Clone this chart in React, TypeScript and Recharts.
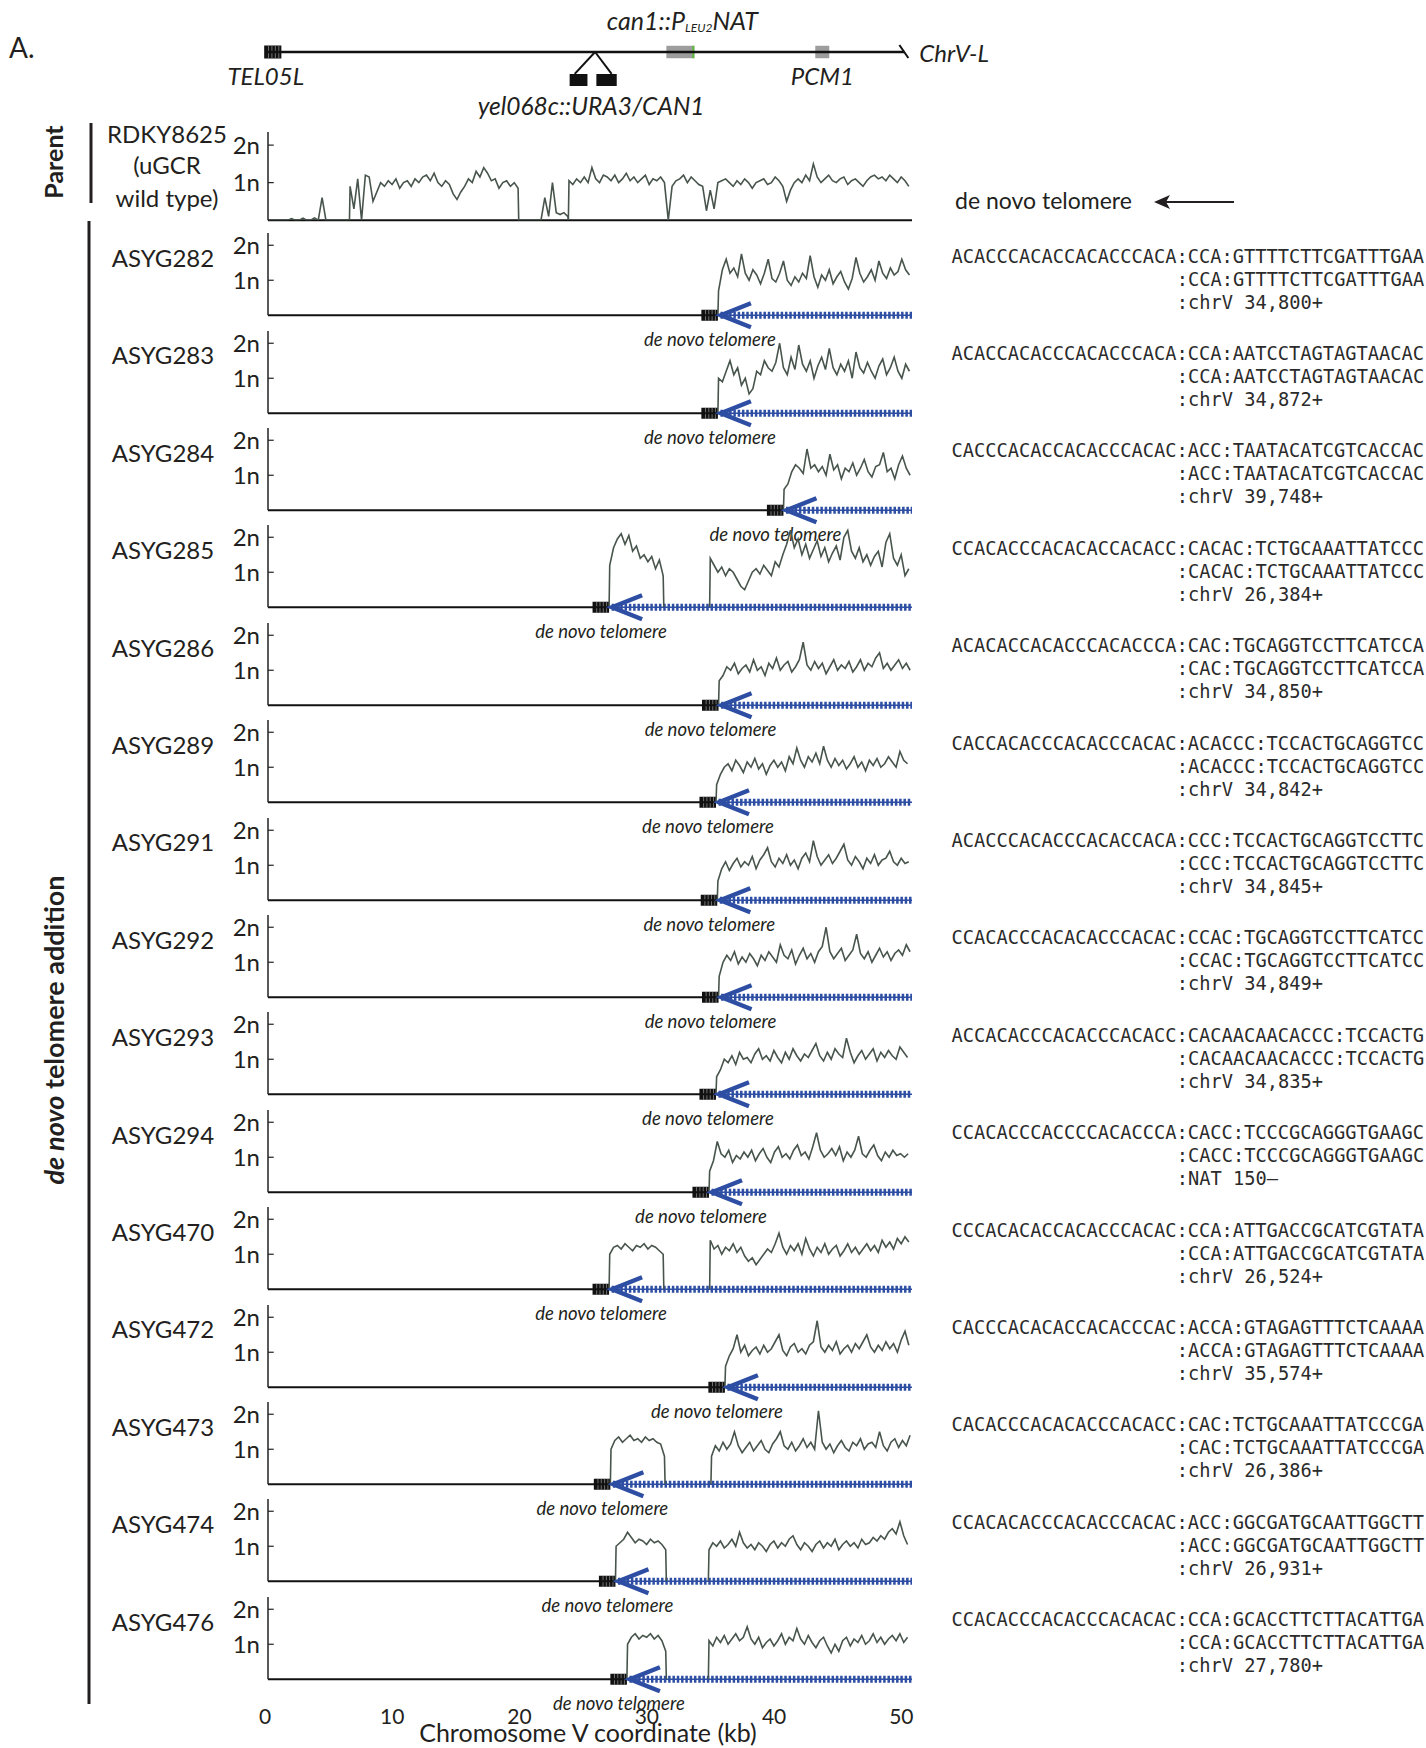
import React from 'react'
import { LineChart, Line, XAxis, YAxis, ReferenceLine, ReferenceArea, ReferenceDot } from 'recharts'

// sampling step of the copy-number traces (kb)
const STEP = 0.3
const X_MAX = 50.6
const xTicks = [0, 10, 20, 30, 40, 50]
const yTicks = [1, 2]

const strains = [
  'ASYG282', 'ASYG283', 'ASYG284', 'ASYG285', 'ASYG286', 'ASYG289', 'ASYG291', 'ASYG292',
  'ASYG293', 'ASYG294', 'ASYG470', 'ASYG472', 'ASYG473', 'ASYG474', 'ASYG476',
]

// right edge of the de novo telomere marker, kb
const telomereKb = [35.35, 35.35, 40.5, 26.8, 35.4, 35.2, 35.3, 35.4, 35.2, 34.65, 26.8, 35.9, 26.9, 27.3, 28.2]
// start of the second (distal) block in strains with a gap, kb
const distalStartKb = [null, null, null, 34.7, null, null, null, null, null, null, 34.7, null, 34.8, 34.6, 34.6]

const telomereRepeats = [
  'ACACCCACACCACACCCACA', 'ACACCACACCCACACCCACA', 'CACCCACACCACACCCACAC', 'CCACACCCACACACCACACC',
  'ACACACCACACCCACACCCA', 'CACCACACCCACACCCACAC', 'ACACCCACACCCACACCACA', 'CCACACCCACACACCCACAC',
  'ACCACACCCACACCCACACC', 'CCACACCCACCCCACACCCA', 'CCCACACACCACACCCACAC', 'CACCCACACACCACACCCAC',
  'CACACCCACACACCCACACC', 'CCACACACCCACACCCACAC', 'CCACACCCACACCCACACAC',
]
const junctions = [
  'CCA:GTTTTCTTCGATTTGAA', 'CCA:AATCCTAGTAGTAACAC', 'ACC:TAATACATCGTCACCAC', 'CACAC:TCTGCAAATTATCCC',
  'CAC:TGCAGGTCCTTCATCCA', 'ACACCC:TCCACTGCAGGTCC', 'CCC:TCCACTGCAGGTCCTTC', 'CCAC:TGCAGGTCCTTCATCC',
  'CACAACAACACCC:TCCACTG', 'CACC:TCCCGCAGGGTGAAGC', 'CCA:ATTGACCGCATCGTATA', 'ACCA:GTAGAGTTTCTCAAAA',
  'CAC:TCTGCAAATTATCCCGA', 'ACC:GGCGATGCAATTGGCTT', 'CCA:GCACCTTCTTACATTGA',
]
const breakCoords = [
  'chrV 34,800+', 'chrV 34,872+', 'chrV 39,748+', 'chrV 26,384+', 'chrV 34,850+', 'chrV 34,842+',
  'chrV 34,845+', 'chrV 34,849+', 'chrV 34,835+', 'NAT 150–', 'chrV 26,524+', 'chrV 35,574+',
  'chrV 26,386+', 'chrV 26,931+', 'chrV 27,780+',
]

// parent RDKY8625 trace, in blocks (start kb, values in n)
const parentA = [0, 0, 0, 0, 0, 0, 0.04, 0, 0, 0.05, 0, 0, 0.06, 0, 0.6, 0, 0, 0, 0, 0, 0, 0]
const parentB = [0.9, 0.3, 1.1, 0.0, 1.2, 1.15, 0.5, 0.75, 1.0, 0.9, 1.05, 0.95, 1.1, 0.85, 1.0, 1.05, 0.9, 1.1, 1.0, 1.15,
  1.2, 1.05, 1.25, 1.0, 0.9, 1.05, 0.95, 0.7, 0.55, 0.75, 0.9, 1.1, 1.0, 1.3, 1.15, 1.4, 1.25, 1.05, 1.1, 0.85,
  1.0, 1.05, 0.9, 1.0, 0.85]
const parentC = [0, 0, 0, 0, 0, 0, 0.6, 0.1, 1.0, 0.2, 0.15, 0.2, 0.1]
const parentD = [1.05, 0.95, 1.1, 1.0, 1.15, 1.0, 1.4, 1.1, 1.0, 1.2, 1.15, 1.05, 1.2, 1.0, 1.1, 1.25, 1.05, 1.15, 1.0, 1.1,
  1.2, 0.95, 1.1, 1.05, 1.15, 1.0, 0.0, 0.9, 1.05, 1.1, 1.2, 1.0, 1.15, 1.05, 0.95, 0.9, 0.25, 0.8, 0.3, 1.0,
  1.05, 1.1, 1.0, 0.9, 1.05, 0.95, 1.1, 1.0, 0.85, 1.0, 1.05, 1.1, 0.95, 1.0, 1.15, 1.05, 0.9, 0.5, 0.8, 1.0,
  1.1, 1.0, 1.2, 1.05, 1.5, 1.15, 1.0, 1.1, 1.2, 1.05, 1.0, 1.1, 1.15, 0.95, 1.05, 1.1, 1.0, 0.9, 1.05, 1.15,
  1.2, 1.1, 1.15, 1.05, 1.2, 1.1, 1.0, 1.15, 1.05, 0.9, 0.8]

const asyg282 = [0.7, 1.3, 1.6, 1.2, 1.35, 1.1, 1.75, 1.2, 1.0, 1.3, 1.15, 0.9, 1.2, 1.6, 1.05, 0.95, 1.2, 1.55, 1.0, 0.85,
  1.1, 0.95, 1.2, 1.05, 1.7, 1.1, 0.8, 1.15, 1.0, 1.3, 0.9, 1.1, 1.25, 0.95, 0.75, 1.05, 1.65, 1.2, 0.95, 1.1,
  1.3, 1.0, 1.55, 1.2, 1.05, 1.35, 1.15, 1.25, 1.6, 1.3, 1.15]
const asyg283 = [1.0, 0.9, 1.2, 1.5, 1.1, 1.3, 0.8, 1.0, 0.55, 0.7, 1.2, 1.1, 1.5, 1.3, 1.2, 1.45, 2.0, 1.3, 1.1, 1.6,
  1.25, 1.95, 1.4, 1.2, 1.5, 1.0, 1.35, 1.6, 1.25, 1.85, 1.3, 1.1, 1.4, 1.2, 1.5, 1.0, 1.75, 1.3, 1.15, 1.45,
  1.2, 1.0, 1.35, 1.55, 1.1, 1.3, 1.6, 1.2, 1.0, 1.4, 1.2]
const asyg284 = [0.6, 0.75, 1.1, 1.3, 1.2, 1.05, 1.75, 1.2, 1.3, 1.1, 1.25, 1.0, 1.6, 1.15, 1.3, 0.9, 1.2, 1.1, 1.35, 1.0,
  1.2, 1.45, 1.1, 0.95, 1.25, 1.3, 1.65, 1.1, 1.2, 0.9, 1.3, 1.55, 1.2, 1.0]
const asyg285a = [1.2, 1.7, 1.95, 2.1, 1.8, 2.05, 1.6, 1.75, 1.4, 1.5, 1.3, 1.45, 1.1, 1.35, 0.9]
const asyg285b = [1.4, 1.2, 1.0, 1.15, 0.9, 1.1, 1.0, 0.8, 0.6, 0.5, 0.75, 1.0, 1.1, 0.95, 1.2, 1.05, 0.9, 1.3, 1.15, 1.5,
  1.8, 2.2, 1.7, 1.95, 1.5, 1.8, 1.4, 1.65, 1.9, 1.45, 1.7, 1.3, 1.55, 1.75, 1.35, 2.0, 2.2, 1.6, 1.4, 1.7,
  1.3, 1.5, 1.2, 1.45, 1.6, 1.15, 1.85, 2.1, 1.4, 1.2, 1.5, 0.9, 1.1, 0.7]
const asyg286 = [0.7, 0.85, 1.1, 1.0, 1.2, 0.9, 1.05, 1.15, 0.95, 1.3, 1.0, 1.1, 0.85, 1.2, 1.05, 1.35, 1.0, 1.15, 1.25, 0.95,
  1.1, 1.3, 1.8, 1.15, 1.0, 1.25, 1.05, 1.2, 0.9, 1.1, 1.3, 1.0, 1.15, 1.05, 1.25, 0.95, 1.1, 1.3, 1.0, 1.2,
  1.1, 1.35, 1.5, 1.05, 1.2, 1.0, 1.15, 1.3, 1.05, 1.2, 1.0]
const asyg289 = [0.5, 0.8, 1.0, 1.1, 0.9, 1.2, 1.05, 0.85, 1.15, 1.0, 1.25, 0.95, 1.1, 0.8, 1.05, 1.2, 1.0, 1.15, 0.9, 1.3,
  1.1, 1.55, 1.2, 1.0, 1.3, 1.15, 1.4, 1.1, 1.6, 1.2, 1.0, 1.25, 1.05, 1.2, 0.95, 1.1, 1.3, 1.0, 1.15, 0.9,
  1.2, 1.05, 1.25, 1.0, 1.1, 1.3, 1.15, 1.0, 1.45, 1.2, 1.1]
const asyg291 = [0.55, 0.9, 1.1, 0.85, 1.05, 1.2, 0.95, 1.1, 1.0, 1.25, 0.9, 1.15, 1.3, 1.5, 1.1, 0.95, 1.2, 1.05, 1.3, 1.0,
  1.15, 0.9, 1.2, 1.35, 1.1, 1.7, 1.25, 1.0, 1.15, 1.3, 1.05, 1.2, 1.4, 1.6, 1.15, 1.0, 1.25, 1.1, 0.9, 1.2,
  1.05, 1.3, 1.0, 1.15, 1.2, 1.4, 1.1, 1.0, 1.2, 1.05, 1.1]
const asyg292 = [0.6, 1.0, 1.2, 1.05, 1.3, 0.95, 1.15, 1.0, 1.25, 1.1, 0.9, 1.2, 1.05, 1.3, 1.15, 1.0, 1.5, 1.2, 1.1, 1.35,
  0.95, 1.2, 1.4, 1.1, 1.25, 1.0, 1.3, 1.45, 2.0, 1.3, 1.1, 1.25, 1.4, 1.05, 1.2, 1.35, 1.8, 1.25, 1.1, 1.3,
  1.0, 1.2, 1.4, 1.15, 1.3, 1.05, 1.25, 1.35, 1.2, 1.5, 1.3]
const asyg293 = [0.5, 0.7, 1.0, 0.9, 1.1, 0.85, 1.2, 1.0, 1.05, 0.9, 1.15, 1.3, 1.0, 1.1, 0.95, 1.25, 1.05, 0.9, 1.2, 1.0,
  1.3, 1.1, 0.95, 1.15, 1.05, 1.25, 1.45, 1.1, 0.95, 1.2, 1.0, 1.3, 1.15, 1.05, 1.6, 1.2, 0.9, 1.1, 1.25, 1.0,
  1.15, 1.3, 0.95, 1.2, 1.05, 1.25, 1.1, 1.0, 1.35, 1.2, 1.05]
const asyg294 = [0.6, 0.9, 1.45, 1.1, 1.0, 1.2, 0.85, 1.05, 0.95, 1.15, 1.0, 1.2, 0.9, 1.1, 1.25, 1.0, 0.85, 1.15, 1.3, 1.0,
  1.1, 0.95, 1.2, 1.35, 1.05, 1.15, 0.95, 1.3, 1.7, 1.2, 1.0, 1.1, 1.25, 1.05, 1.3, 0.9, 1.15, 1.0, 1.2, 1.6,
  1.1, 1.0, 1.2, 1.35, 1.05, 0.9, 1.15, 1.0, 1.2, 1.05, 1.1, 1.0, 1.1]
const asyg470a = [1.0, 1.2, 1.25, 1.15, 1.3, 1.2, 1.1, 1.25, 1.2, 1.3, 1.15, 1.25, 1.2, 1.1, 1.0]
const asyg470b = [1.4, 1.15, 1.25, 1.0, 1.2, 1.1, 1.3, 1.05, 1.2, 0.95, 0.8, 0.9, 0.7, 0.85, 1.0, 1.15, 1.05, 1.3, 1.6, 1.2,
  1.0, 1.25, 1.1, 1.3, 1.0, 1.45, 1.15, 0.95, 1.2, 1.05, 1.3, 1.0, 1.15, 1.25, 0.95, 1.1, 1.3, 1.05, 1.2, 1.0,
  1.15, 1.3, 1.1, 1.25, 1.05, 1.4, 1.2, 1.35, 1.15, 1.45, 1.3, 1.5, 1.35]
const asyg472 = [0.6, 0.9, 1.1, 1.5, 1.0, 1.2, 0.9, 1.05, 1.15, 0.95, 1.2, 1.0, 1.1, 1.3, 1.5, 1.05, 0.9, 1.15, 1.25, 1.0,
  1.1, 0.95, 1.2, 1.3, 1.9, 1.15, 1.0, 1.2, 1.05, 1.3, 0.95, 1.1, 1.2, 1.0, 1.25, 1.1, 1.3, 1.5, 1.15, 1.0,
  1.2, 1.05, 1.3, 1.1, 1.25, 1.0, 1.35, 1.6, 1.2]
const asyg473a = [1.0, 1.25, 1.35, 1.2, 1.3, 1.4, 1.25, 1.3, 1.2, 1.35, 1.25, 1.3, 1.2, 1.15, 0.8]
const asyg473b = [0.8, 1.1, 0.95, 1.2, 1.0, 1.15, 1.5, 1.1, 0.9, 1.05, 1.2, 0.95, 1.1, 1.25, 1.0, 0.9, 1.15, 1.3, 1.5, 1.1,
  1.0, 1.2, 0.95, 1.1, 1.3, 1.05, 1.2, 1.0, 2.1, 1.2, 1.0, 1.15, 0.9, 1.1, 1.25, 1.05, 0.95, 1.2, 1.1, 1.3,
  1.0, 1.15, 1.2, 1.05, 1.5, 1.1, 0.95, 1.2, 1.3, 1.05, 1.25, 1.1, 1.4, 1.2]
const asyg474a = [1.0, 1.1, 1.2, 1.4, 1.25, 1.1, 1.2, 1.15, 1.05, 1.2, 1.1, 1.15, 1.05, 0.9]
const asyg474b = [0.9, 1.1, 1.0, 1.15, 0.95, 1.05, 1.2, 1.0, 1.4, 1.1, 0.95, 1.05, 0.9, 1.1, 1.0, 0.85, 1.05, 1.15, 0.95, 1.1,
  1.0, 1.2, 1.3, 1.05, 0.9, 1.1, 1.0, 0.85, 1.05, 1.15, 0.95, 1.1, 1.0, 1.2, 0.9, 1.05, 1.15, 1.0, 1.1, 0.95,
  1.2, 1.05, 1.1, 1.25, 1.15, 1.3, 1.2, 1.4, 1.5, 1.35, 1.7, 1.3, 1.05]
const asyg476a = [1.0, 1.2, 1.3, 1.15, 1.25, 1.2, 1.3, 1.15, 1.25, 1.1, 0.8]
const asyg476b = [1.1, 0.95, 1.2, 1.05, 1.25, 1.0, 1.15, 1.3, 1.1, 1.2, 1.5, 1.15, 1.0, 1.2, 0.9, 1.05, 1.15, 0.95, 1.1, 1.3,
  1.0, 1.2, 1.1, 1.45, 1.15, 1.0, 1.25, 1.05, 0.9, 1.1, 1.2, 0.95, 0.75, 1.0, 0.8, 1.1, 1.2, 0.95, 1.15, 1.05,
  1.25, 1.0, 1.1, 1.3, 1.05, 1.2, 1.0, 1.15, 1.25, 1.1, 1.3, 1.05, 1.2]

const proximalValues = [asyg282, asyg283, asyg284, asyg285a, asyg286, asyg289, asyg291, asyg292, asyg293, asyg294,
  asyg470a, asyg472, asyg473a, asyg474a, asyg476a]
const distalValues = [null, null, null, asyg285b, null, null, null, null, null, null, asyg470b, null, asyg473b, asyg474b, asyg476b]

// chromosome map features (kb)
const telBoxKb = [-0.3, 1.05]
const insertApexKb = 25.7
const insertBoxesKb = [[23.7, 25.1], [25.8, 27.4]]
const can1BoxKb = [31.3, 33.5]
const pcm1BoxKb = [43.0, 44.1]
const chrEndKb = 50.0

// layout
const INK = '#231f20'
const SIGNAL = '#48554c'
const BLUE = '#2d4ea3'
const SANS = "Lato, 'Open Sans', sans-serif"
const MONO = "'DejaVu Sans Mono', monospace"
const PLOT_LEFT = 268
const PLOT_RIGHT = 912
const CHART_W = 940
const MAP_W = 1020
const Y_MAX = 2.35
const PARENT_BASE = 219.7
const PANEL_BASE0 = 315.5
const PANEL_GAP = 97.4
const SEQ_X = 951.5
const SEQ_FONT = 18.7
const CHAR_W = SEQ_FONT * 0.6021

type Pt = { x: number; y: number | null }

function addBlock(out: Pt[], start: number, values: number[], close: boolean) {
  out.push({ x: start, y: 0 })
  let last = start
  values.forEach((v, i) => {
    const x = start + 0.05 + i * STEP
    if (x <= X_MAX) {
      out.push({ x, y: v })
      last = x
    }
  })
  if (close) out.push({ x: last + 0.05, y: 0 })
}

function parentSeries(): Pt[] {
  const out: Pt[] = []
  addBlock(out, 0, parentA, false)
  addBlock(out, 6.4, parentB, true)
  addBlock(out, 19.9, parentC, false)
  addBlock(out, 23.6, parentD, false)
  return out
}

function strainSeries(i: number): Pt[] {
  const out: Pt[] = []
  const distal = distalValues[i]
  addBlock(out, telomereKb[i], proximalValues[i], distal != null)
  if (distal != null) {
    const ds = distalStartKb[i] as number
    out.push({ x: (telomereKb[i] + ds) / 2 + 1, y: null })
    addBlock(out, ds, distal, false)
  }
  return out
}

const TelomereBox = (p: any) => (
  <g>
    <rect x={p.x} y={p.y} width={p.width} height={p.height} fill="#111" />
    {[0.25, 0.45, 0.65, 0.85].map((f) => (
      <line key={f} x1={p.x + p.width * f} x2={p.x + p.width * f} y1={p.y} y2={p.y + p.height} stroke="#8a8a8a" strokeWidth={0.8} />
    ))}
  </g>
)

const Chevron = (p: any) => (
  <g>
    <path d={`M${p.cx + 33},${p.cy - 12} L${p.cx + 3},${p.cy} L${p.cx + 33},${p.cy + 12}`} fill="none" stroke={BLUE} strokeWidth={4.5} />
    <text x={p.cx - 8} y={p.cy + 24} textAnchor="middle" dominantBaseline="central" fontFamily={SANS} fontStyle="italic" fontSize={18.5} fill={INK}>
      de novo telomere
    </text>
  </g>
)

function Panel({ data, base, pxPerN, tel, last }: { data: Pt[]; base: number; pxPerN: number; tel: number | null; last: boolean }) {
  const plotH = Y_MAX * pxPerN
  const mTop = 8
  const xAxisH = last ? 46 : 0
  const mBottom = last ? 4 : 40
  const height = mTop + plotH + xAxisH + mBottom
  const boxHalf = 5.5 / pxPerN
  return (
    <div style={{ position: 'absolute', left: 0, top: base - plotH - mTop }}>
      <LineChart width={CHART_W} height={height} data={data} margin={{ top: mTop, right: CHART_W - PLOT_RIGHT, bottom: mBottom, left: PLOT_LEFT - 50 }}>
        <XAxis
          type="number"
          dataKey="x"
          domain={[0, X_MAX]}
          allowDataOverflow
          ticks={xTicks}
          tick={last ? { fontSize: 21, fill: INK, fontFamily: SANS, dx: -3 } : false}
          tickLine={false}
          tickSize={0}
          tickMargin={30}
          height={xAxisH}
          axisLine={false}
        />
        <YAxis
          type="number"
          domain={[0, Y_MAX]}
          allowDataOverflow
          ticks={yTicks}
          tickFormatter={(v) => `${v}n`}
          width={50}
          tickLine={false}
          tickSize={0}
          tickMargin={8}
          axisLine={{ stroke: '#222', strokeWidth: 1.5 }}
          tick={{ fontSize: 24, fill: INK, fontFamily: SANS }}
        />
        {yTicks.map((n) => (
          <ReferenceLine key={n} segment={[{ x: 0, y: n }, { x: 0.45, y: n }]} stroke="#222" strokeWidth={1.2} />
        ))}
        <ReferenceLine segment={[{ x: 0, y: 0 }, { x: tel ?? X_MAX, y: 0 }]} stroke="#111" strokeWidth={2} ifOverflow="visible" />
        {tel != null && (
          <ReferenceLine segment={[{ x: tel + 0.2, y: 0 }, { x: X_MAX, y: 0 }]} stroke="#ffffff" strokeWidth={8} ifOverflow="visible" />
        )}
        {tel != null && (
          <ReferenceLine segment={[{ x: tel + 0.2, y: 0 }, { x: X_MAX, y: 0 }]} stroke={BLUE} strokeWidth={7} strokeDasharray="2.5 1.8" ifOverflow="visible" />
        )}
        {tel != null && (
          <ReferenceLine segment={[{ x: tel + 0.2, y: 0 }, { x: X_MAX, y: 0 }]} stroke={BLUE} strokeWidth={1.5} ifOverflow="visible" />
        )}
        <Line type="linear" dataKey="y" stroke={SIGNAL} strokeWidth={1.6} dot={false} isAnimationActive={false} connectNulls={false} />
        {tel != null && (
          <ReferenceArea x1={tel - 1.3} x2={tel} y1={-boxHalf} y2={boxHalf} ifOverflow="visible" shape={TelomereBox} />
        )}
        {tel != null && <ReferenceDot x={tel} y={0} r={1} ifOverflow="visible" shape={Chevron} />}
      </LineChart>
    </div>
  )
}

const chromosomeLine = [
  { x: 0, y: 0 },
  { x: chrEndKb, y: 0 },
]

const mapLabel = (text: React.ReactNode, dx: number, dy: number, anchor: string, size = 24) => (p: any) => {
  const cx = p.cx ?? p.x + p.width / 2
  const cy = p.cy ?? p.y + p.height / 2
  return (
    <text x={cx + dx} y={cy + dy} textAnchor={anchor} dominantBaseline="central" fontFamily={SANS} fontStyle="italic" fontSize={size} fill={INK}>
      {text}
    </text>
  )
}

const GrayBox = (green: boolean) => (p: any) => (
  <g>
    <rect x={p.x} y={p.y} width={p.width} height={p.height} fill="#9d9d9d" />
    {green && <rect x={p.x + p.width - 2} y={p.y} width={2} height={p.height} fill="#5dbb3a" />}
  </g>
)

function ChromosomeMap() {
  return (
    <div style={{ position: 'absolute', left: 0, top: 0 }}>
      <LineChart width={MAP_W} height={124} data={chromosomeLine} margin={{ top: 0, right: MAP_W - PLOT_RIGHT, bottom: 20, left: PLOT_LEFT }}>
        <XAxis type="number" dataKey="x" domain={[0, X_MAX]} allowDataOverflow hide />
        <YAxis type="number" domain={[-1, 1]} allowDataOverflow hide />
        <Line type="linear" dataKey="y" stroke="#111" strokeWidth={2.5} dot={false} isAnimationActive={false} />
        <ReferenceArea x1={telBoxKb[0]} x2={telBoxKb[1]} y1={-0.125} y2={0.125} ifOverflow="visible" shape={TelomereBox} />
        <ReferenceDot x={(telBoxKb[0] + telBoxKb[1]) / 2} y={-0.125} r={1} ifOverflow="visible" shape={mapLabel('TEL05L', -7, 17, 'middle')} />
        <ReferenceLine segment={[{ x: insertApexKb, y: 0 }, { x: insertBoxesKb[0][0] + 0.4, y: -0.42 }]} stroke="#111" strokeWidth={2} ifOverflow="visible" />
        <ReferenceLine segment={[{ x: insertApexKb, y: 0 }, { x: insertBoxesKb[1][1] - 0.4, y: -0.42 }]} stroke="#111" strokeWidth={2} ifOverflow="visible" />
        {insertBoxesKb.map(([a, b]) => (
          <ReferenceArea key={a} x1={a} x2={b} y1={-0.654} y2={-0.423} ifOverflow="visible" fill="#111" fillOpacity={1} />
        ))}
        <ReferenceDot x={insertApexKb} y={-0.654} r={1} ifOverflow="visible" shape={mapLabel('yel068c::URA3/CAN1', -4, 19, 'middle', 24.5)} />
        <ReferenceArea x1={can1BoxKb[0]} x2={can1BoxKb[1]} y1={-0.12} y2={0.12} ifOverflow="visible" shape={GrayBox(true)} />
        <ReferenceDot
          x={(can1BoxKb[0] + can1BoxKb[1]) / 2}
          y={0.12}
          r={1}
          ifOverflow="visible"
          shape={mapLabel(
            <>
              <tspan>can1::P</tspan>
              <tspan fontSize={12} dy={7}>LEU2</tspan>
              <tspan dy={-7}>NAT</tspan>
            </>,
            2,
            -26,
            'middle',
            25,
          )}
        />
        <ReferenceArea x1={pcm1BoxKb[0]} x2={pcm1BoxKb[1]} y1={-0.12} y2={0.12} ifOverflow="visible" shape={GrayBox(false)} />
        <ReferenceDot x={(pcm1BoxKb[0] + pcm1BoxKb[1]) / 2} y={-0.12} r={1} ifOverflow="visible" shape={mapLabel('PCM1', 0, 17, 'middle')} />
        <ReferenceDot
          x={chrEndKb}
          y={0}
          r={1}
          ifOverflow="visible"
          shape={(p: any) => (
            <g>
              <line x1={p.cx - 5} y1={p.cy - 7} x2={p.cx + 4} y2={p.cy + 6} stroke="#111" strokeWidth={2} />
              <text x={p.cx + 15} y={p.cy} dominantBaseline="central" fontFamily={SANS} fontStyle="italic" fontSize={24} fill={INK}>
                ChrV-L
              </text>
            </g>
          )}
        />
      </LineChart>
    </div>
  )
}

function Overlay() {
  return (
    <svg width={1426} height={1748} style={{ position: 'absolute', left: 0, top: 0 }}>
      <text x={9} y={47} fontSize={28} fontFamily={SANS} fill={INK} dominantBaseline="central">A.</text>
      <line x1={91} y1={123} x2={91} y2={203} stroke={INK} strokeWidth={3} />
      <line x1={89} y1={221} x2={89} y2={1704} stroke={INK} strokeWidth={3} />
      <text transform="translate(53,162) rotate(-90)" textAnchor="middle" dominantBaseline="central" fontFamily={SANS} fontWeight={700} fontSize={25} fill={INK}>
        Parent
      </text>
      <text transform="translate(53,1030) rotate(-90)" textAnchor="middle" dominantBaseline="central" fontFamily={SANS} fontWeight={700} fontSize={27} fill={INK}>
        <tspan fontStyle="italic">de novo</tspan> telomere addition
      </text>
      {['RDKY8625', '(uGCR', 'wild type)'].map((t, i) => (
        <text key={t} x={167} y={[133, 164, 197][i]} textAnchor="middle" dominantBaseline="central" fontFamily={SANS} fontSize={24} fill={INK}>
          {t}
        </text>
      ))}
      <text x={955} y={200} dominantBaseline="central" fontFamily={SANS} fontSize={23} fill={INK}>de novo telomere</text>
      <line x1={1162} y1={202} x2={1234} y2={202} stroke={INK} strokeWidth={2} />
      <path d="M1154,202 L1170,195 L1166,202 L1170,209 Z" fill={INK} />
      {strains.map((s, i) => {
        const base = PANEL_BASE0 + i * PANEL_GAP
        const x2 = SEQ_X + telomereRepeats[i].length * CHAR_W
        return (
          <g key={s}>
            <text x={163} y={base - 58} textAnchor="middle" dominantBaseline="central" fontFamily={SANS} fontSize={24} fill={INK}>{s}</text>
            <text x={SEQ_X} y={base - 59.5} dominantBaseline="central" fontFamily={MONO} fontSize={SEQ_FONT} fill="#2b2b2b">
              {telomereRepeats[i] + ':' + junctions[i]}
            </text>
            <text x={x2} y={base - 36.5} dominantBaseline="central" fontFamily={MONO} fontSize={SEQ_FONT} fill="#2b2b2b">
              {':' + junctions[i]}
            </text>
            <text x={x2} y={base - 13.5} dominantBaseline="central" fontFamily={MONO} fontSize={SEQ_FONT} fill="#2b2b2b">
              {':' + breakCoords[i]}
            </text>
          </g>
        )
      })}
      <text x={588} y={1732} textAnchor="middle" dominantBaseline="central" fontFamily={SANS} fontSize={25} fill={INK}>
        Chromosome V coordinate (kb)
      </text>
    </svg>
  )
}

export default function App() {
  return (
    <div style={{ position: 'absolute', left: 0, top: 0, width: 1426, height: 1748, background: '#fff', overflow: 'hidden' }}>
      <Overlay />
      <ChromosomeMap />
      <Panel data={parentSeries()} base={PARENT_BASE} pxPerN={37.5} tel={null} last={false} />
      {strains.map((s, i) => (
        <Panel
          key={s}
          data={strainSeries(i)}
          base={PANEL_BASE0 + i * PANEL_GAP}
          pxPerN={35}
          tel={telomereKb[i]}
          last={i === strains.length - 1}
        />
      ))}
    </div>
  )
}
